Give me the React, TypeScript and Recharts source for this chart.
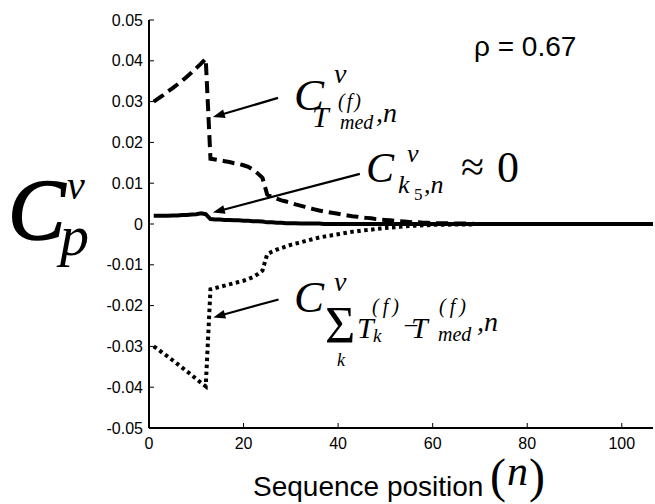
import React from 'react';
import { LineChart, Line, XAxis, YAxis } from 'recharts';

const nValues: number[] = Array.from({ length: 107 }, (_, i) => i + 1);

const tMedSeries: number[] = [
  0.0300, 0.0308, 0.0316, 0.0325, 0.0333, 0.0342, 0.0351, 0.0361, 0.0371, 0.0382, 0.0393, 0.0405,
  0.0160, 0.0158, 0.0156, 0.0154, 0.0152, 0.0149, 0.0147, 0.0144, 0.0140, 0.0133, 0.0124, 0.0113,
  0.0072, 0.0066, 0.0062, 0.0058, 0.0055, 0.0052, 0.0048, 0.0045, 0.0042, 0.0039, 0.0036, 0.0033,
  0.0031, 0.0029, 0.0027, 0.0025, 0.0023, 0.0021, 0.0019, 0.0018, 0.0016, 0.0015, 0.0014, 0.0012,
  0.0011, 0.0010, 0.0009, 0.0008, 0.0007, 0.0006, 0.0005, 0.0004, 0.0004, 0.0003, 0.0003, 0.0002,
  0.0002, 0.0002, 0.0002, 0.0001, 0.0001, 0.0001, 0.0001, 0.0001, 0, 0, 0, 0,
  0, 0, 0, 0, 0, 0, 0, 0, 0, 0, 0, 0, 0, 0, 0, 0, 0, 0, 0, 0, 0, 0, 0, 0, 0, 0, 0, 0, 0, 0, 0,
];

const k5Series: number[] = [
  0.0020, 0.0020, 0.0020, 0.0020, 0.0021, 0.0021, 0.0022, 0.0022, 0.0023, 0.0024, 0.0026, 0.0024,
  0.0012, 0.0011, 0.0011, 0.0010, 0.0010, 0.0009, 0.0009, 0.0008, 0.0008, 0.0007, 0.0007, 0.0006,
  0.0004, 0.0004, 0.0003, 0.0003, 0.0002, 0.0002, 0.0002, 0.0001, 0.0001, 0.0001, 0.0001, 0.0001,
  0, 0, 0, 0, 0, 0, 0, 0, 0, 0, 0, 0, 0, 0, 0, 0, 0, 0, 0, 0, 0, 0, 0, 0,
  0, 0, 0, 0, 0, 0, 0, 0, 0, 0, 0, 0, 0, 0, 0, 0, 0, 0, 0, 0, 0, 0, 0, 0,
  0, 0, 0, 0, 0, 0, 0, 0, 0, 0, 0, 0, 0, 0, 0, 0, 0, 0, 0, 0, 0, 0, 0,
];

const sumSeries: number[] = [
  -0.0300, -0.0308, -0.0317, -0.0325, -0.0334, -0.0343, -0.0352, -0.0361, -0.0370, -0.0380, -0.0389, -0.0398,
  -0.0160, -0.0157, -0.0154, -0.0151, -0.0148, -0.0145, -0.0142, -0.0139, -0.0135, -0.0130, -0.0123, -0.0114,
  -0.0074, -0.0068, -0.0063, -0.0059, -0.0055, -0.0051, -0.0048, -0.0045, -0.0042, -0.0039, -0.0036, -0.0033,
  -0.0031, -0.0029, -0.0027, -0.0025, -0.0023, -0.0021, -0.0019, -0.0018, -0.0016, -0.0015, -0.0014, -0.0012,
  -0.0011, -0.0010, -0.0009, -0.0008, -0.0007, -0.0006, -0.0005, -0.0004, -0.0004, -0.0003, -0.0003, -0.0002,
  -0.0002, -0.0002, -0.0002, -0.0001, -0.0001, -0.0001, -0.0001, -0.0001, 0, 0, 0, 0,
  0, 0, 0, 0, 0, 0, 0, 0, 0, 0, 0, 0, 0, 0, 0, 0, 0, 0, 0, 0, 0, 0, 0, 0, 0, 0, 0, 0, 0, 0, 0,
];

const xTicks: number[] = [0, 20, 40, 60, 80, 100];
const yTicks: number[] = [-0.05, -0.04, -0.03, -0.02, -0.01, 0, 0.01, 0.02, 0.03, 0.04, 0.05];

const data = nValues.map((n, i) => ({
  n,
  tmed: tMedSeries[i],
  k5: k5Series[i],
  sum: sumSeries[i],
}));

const W = 655;
const H = 504;
const PLOT = { left: 149, right: 653, top: 20, bottom: 428 };
const X_MAX = 106.6;
const sx = (n: number) => PLOT.left + (n / X_MAX) * (PLOT.right - PLOT.left);
const sy = (v: number) => PLOT.top + ((0.05 - v) / 0.1) * (PLOT.bottom - PLOT.top);

const SERIF = 'Liberation Serif, Times New Roman, serif';
const SANS = 'Liberation Sans, Arial, Helvetica, sans-serif';

function Arrow({ from, to }: { from: [number, number]; to: [number, number] }) {
  const x1 = sx(from[0]);
  const y1 = sy(from[1]);
  const x2 = sx(to[0]);
  const y2 = sy(to[1]);
  const dx = x2 - x1;
  const dy = y2 - y1;
  const len = Math.sqrt(dx * dx + dy * dy);
  const ux = dx / len;
  const uy = dy / len;
  const hl = 12;
  const hw = 4.5;
  const bx = x2 - ux * hl;
  const by = y2 - uy * hl;
  const pts = `${x2},${y2} ${bx - uy * hw},${by + ux * hw} ${bx + uy * hw},${by - ux * hw}`;
  return (
    <g>
      <line x1={x1} y1={y1} x2={bx + ux * 2} y2={by + uy * 2} stroke="#000" strokeWidth={2.2} />
      <polygon points={pts} fill="#000" />
    </g>
  );
}

function Annotations() {
  const it = { fontFamily: SERIF, fontStyle: 'italic' as const, fill: '#000' };
  const up = { fontFamily: SERIF, fill: '#000' };
  return (
    <svg width={W} height={H} style={{ position: 'absolute', left: 0, top: 0, pointerEvents: 'none' }}>
      {/* y-axis label C^v_p */}
      <text x={8} y={239} fontSize={86} {...it} stroke="#000" strokeWidth={1.5}>C</text>
      <text x={67} y={199} fontSize={40} {...it}>v</text>
      <text x={60} y={255} fontSize={58} {...it}>p</text>

      {/* rho */}
      <text x={474} y={56} fontSize={28} fontFamily={SANS} fill="#000">ρ = 0.67</text>

      {/* label for T_med series */}
      <text x={294} y={110} fontSize={45} {...it}>C</text>
      <text x={334} y={83} fontSize={28} {...it}>v</text>
      <text x={312} y={127} fontSize={30} {...it}>T</text>
      <text x={338} y={108} fontSize={20} letterSpacing={2} {...it}>(f)</text>
      <text x={340} y={129} fontSize={20} {...it}>med</text>
      <text x={376} y={122} fontSize={28} {...it}>,n</text>

      {/* label for k5 series */}
      <text x={366} y={182} fontSize={42} {...it}>C</text>
      <text x={407} y={162} fontSize={26} {...it}>v</text>
      <text x={398} y={193} fontSize={26} {...it}>k</text>
      <text x={414} y={200} fontSize={17} {...up}>5</text>
      <text x={424} y={193} fontSize={26} {...it}>,n</text>
      <text x={461} y={181} fontSize={42} {...up}>≈</text>
      <text x={497} y={182} fontSize={44} {...up}>0</text>

      {/* label for sum series */}
      <text x={294} y={312} fontSize={45} {...it}>C</text>
      <text x={334} y={291} fontSize={28} {...it}>v</text>
      <text x={325} y={343} fontSize={52} {...up}>Σ</text>
      <text x={337} y={366} fontSize={18} {...it}>k</text>
      <text x={357} y={338} fontSize={30} {...it}>T</text>
      <text x={373} y={342} fontSize={19} {...it}>k</text>
      <text x={372} y={313} fontSize={20} letterSpacing={4} {...it}>(f)</text>
      <text x={405} y={331} fontSize={24} {...up}>–</text>
      <text x={411} y={338} fontSize={30} {...it}>T</text>
      <text x={439} y={313} fontSize={20} letterSpacing={4} {...it}>(f)</text>
      <text x={438} y={341} fontSize={20} {...it}>med</text>
      <text x={477} y={331} fontSize={28} {...it}>,n</text>

      {/* x-axis label */}
      <text x={253} y={496} fontSize={28} fontFamily={SANS} fill="#000">Sequence position</text>
      <text x={490} y={492} fontSize={48} {...up}>(</text>
      <text x={507} y={485} fontSize={42} {...it}>n</text>
      <text x={529} y={492} fontSize={48} {...up}>)</text>

      {/* arrows */}
      <Arrow from={[27.3, 0.0309]} to={[13.5, 0.0262]} />
      <Arrow from={[44.6, 0.0123]} to={[13.5, 0.0028]} />
      <Arrow from={[27.4, -0.0185]} to={[13.6, -0.0229]} />
    </svg>
  );
}

export default function App() {
  const tickStyle = { fontSize: 16, fill: '#000', fontFamily: SANS };
  return (
    <div style={{ position: 'absolute', left: 0, top: 0, width: W, height: H, background: '#fff' }}>
      <LineChart width={W} height={H} data={data} margin={{ top: 20, right: 2, bottom: 0, left: 0 }}>
        <XAxis
          dataKey="n"
          type="number"
          domain={[0, X_MAX]}
          allowDataOverflow
          ticks={xTicks}
          height={76}
          tickSize={-5}
          tickMargin={15}
          tick={tickStyle}
          axisLine={{ stroke: '#000', strokeWidth: 2 }}
          tickLine={{ stroke: '#000', strokeWidth: 1 }}
          interval={0}
        />
        <XAxis
          xAxisId="top"
          orientation="top"
          dataKey="n"
          type="number"
          domain={[0, X_MAX]}
          allowDataOverflow
          ticks={xTicks}
          height={0}
          tickSize={-5}
          tick={false}
          axisLine={{ stroke: '#000', strokeWidth: 2 }}
          tickLine={{ stroke: '#000', strokeWidth: 1 }}
          interval={0}
        />
        <YAxis
          type="number"
          domain={[-0.05, 0.05]}
          allowDataOverflow
          ticks={yTicks}
          width={149}
          tickSize={-5}
          tickMargin={11}
          tick={tickStyle}
          axisLine={{ stroke: '#000', strokeWidth: 2 }}
          tickLine={{ stroke: '#000', strokeWidth: 1 }}
          interval={0}
        />
        <YAxis
          yAxisId="right"
          orientation="right"
          type="number"
          domain={[-0.05, 0.05]}
          allowDataOverflow
          ticks={yTicks}
          width={0}
          tickSize={-5}
          tick={false}
          axisLine={{ stroke: '#777', strokeWidth: 1 }}
          tickLine={{ stroke: '#000', strokeWidth: 1 }}
          interval={0}
        />
        <Line
          dataKey="tmed"
          type="linear"
          stroke="#000"
          strokeWidth={4}
          strokeDasharray="12 6"
          dot={false}
          isAnimationActive={false}
        />
        <Line
          dataKey="sum"
          type="linear"
          stroke="#000"
          strokeWidth={4}
          strokeDasharray="3.5 3.5"
          dot={false}
          isAnimationActive={false}
        />
        <Line
          dataKey="k5"
          type="linear"
          stroke="#000"
          strokeWidth={4}
          dot={false}
          isAnimationActive={false}
        />
      </LineChart>
      <Annotations />
    </div>
  );
}
